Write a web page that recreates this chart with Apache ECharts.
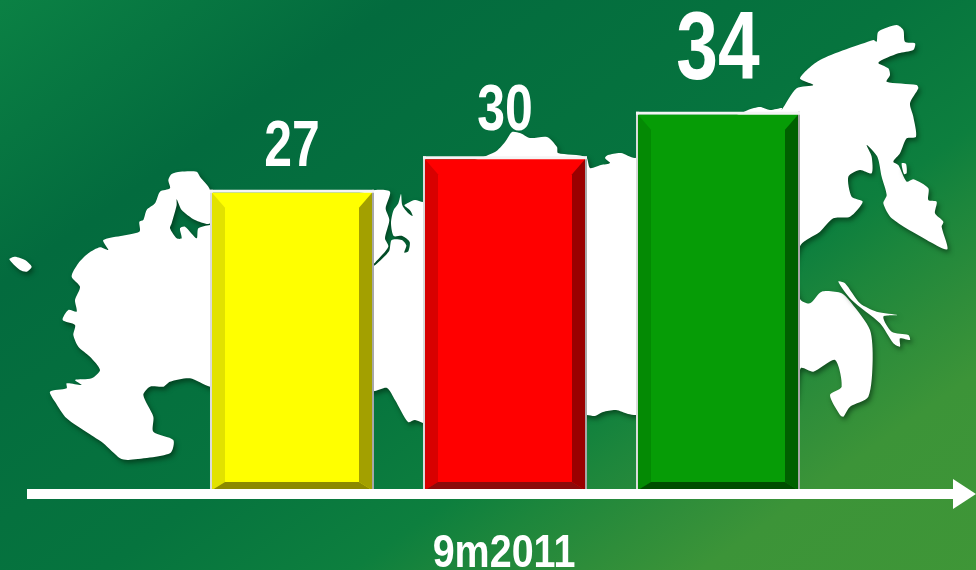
<!DOCTYPE html>
<html><head><meta charset="utf-8">
<style>html,body{margin:0;padding:0;background:#0a7a3d}#c{width:976px;height:570px}</style>
<script src="https://cdn.jsdelivr.net/npm/echarts@6/dist/echarts.min.js"></script>
</head><body><div id="c"></div>
<script>
// ---- data ----
const periodLabels = ['', '9m2011', ''];
const barValues = [27, 30, 34];
const labelFontSizes = [64, 64, 96];
const labelGaps = [9, 12, 11];
const frontColors = ['#ffff00', '#ff0000', '#069c06'];
const leftColors  = ['#e2e200', '#d80000', '#048a04'];
const rightColors = ['#a3a000', '#9a0000', '#006000'];
const lowerColors = ['#8c8a00', '#8c0a0a', '#004d00'];

const fromCrop = (pts, ox, oy) => pts.map(p => [ox + p[0] / 3, oy + p[1] / 3]);
const westCoast = fromCrop([[630,680],[570,655],[510,665],[490,680],[450,680],[430,705],[460,770],[460,815],[520,840],[510,880],[385,900],[360,895],[310,850],[265,820],[200,775],[165,725],[150,695],[200,685],[200,670],[245,675],[225,660],[275,655],[300,630],[270,590],[235,560],[220,525],[225,495],[188,480],[205,450],[230,455],[225,420],[240,380],[215,350],[235,310],[265,280],[300,262],[325,270],[310,240],[418,215],[418,185],[430,180],[440,150],[465,130],[480,95],[510,85],[505,60],[515,42],[540,35],[590,35],[600,50],[630,90]], 0, 160);
const whiteSeaShore = fromCrop([[630,190],[585,180],[545,150],[530,118],[530,135],[515,190],[510,205],[530,235],[545,235],[540,205],[555,200],[590,235],[595,205],[630,195]], 0, 160);
const obGulf = fromCrop([[30,30],[75,35],[62,85],[73,120],[60,175],[70,200],[30,248],[20,258],[30,256],[72,214],[80,180],[110,180],[124,196],[118,218],[130,214],[134,186],[112,168],[86,168],[78,130],[85,92],[100,70],[108,42],[112,76],[130,100],[143,108],[136,92],[118,76],[130,68],[150,60],[178,65]], 365, 180);
const northMiddle = [[440,175],[495,152],[505,142],[512,132],[520,133],[530,138],[547,137],[557,147],[558,153],[586,157],[590,168],[601,165],[610,163],[605,158],[608,155],[621,153],[635,158],[660,150],[748,110],[760,107],[770,110],[782,108]];
const farEast = fromCrop([[65,300],[110,235],[160,225],[120,205],[180,150],[340,90],[350,95],[355,65],[410,45],[430,60],[435,95],[465,100],[460,120],[415,130],[355,158],[385,175],[390,195],[380,215],[470,225],[475,235],[450,280],[460,320],[468,380],[440,385],[420,430],[400,455],[415,465],[440,515],[460,508],[505,535],[505,570],[530,575],[525,610],[550,635],[545,650],[562,718],[500,690],[395,625],[370,580],[380,555],[365,500],[352,440],[320,405],[335,440],[335,490],[300,480],[265,500],[275,560],[308,575],[270,620],[220,625],[180,665],[122,705],[100,800],[122,870],[150,880],[185,845],[245,850],[275,880],[330,960],[338,1050],[325,1160],[270,1190],[250,1220],[240,1215],[210,1155],[245,1130],[225,1050],[160,1085],[122,1075],[90,1200]], 760, 10);
const southMiddle = [[636,415],[628,414],[616,410],[603,412],[595,416],[586,415],[500,440],[423,423],[415,420],[408,422],[395,400],[387,388],[375,391],[300,400]];
const mainland = [].concat(westCoast, whiteSeaShore, obGulf, northMiddle, farEast, southMiddle);
const sakhalin = fromCrop([[235,815],[255,820],[300,880],[350,905],[412,915],[370,920],[395,965],[445,975],[450,990],[420,985],[420,1010],[400,1000],[360,940],[275,870]], 760, 10);
const smallIsle = fromCrop([[425,460],[438,462],[440,490],[432,492]], 760, 10);
const westIsle = fromCrop([[28,298],[45,290],[75,300],[95,320],[80,335],[60,330]], 0, 160);
const mapShapes = [mainland, sakhalin, smallIsle, westIsle];

const boldFont = '"Liberation Sans",Arial,sans-serif';

function renderBar(params, api) {
  const i = params.dataIndex;
  const v = api.value(1);
  const top = api.coord([api.value(0), v]);
  const base = api.coord([api.value(0), 0]);
  const w = api.size([1, 0])[0] * 0.77;
  const x0 = top[0] - w / 2, x1 = top[0] + w / 2, y0 = top[1], y1 = base[1];
  const bl = 13, bt = 15, bb = 8, fr = 2;
  const poly = (points, fill) => ({ type: 'polygon', shape: { points }, style: { fill } });
  const ix0 = x0 + fr, ix1 = x1 - fr, iy0 = y0 + fr + 1;
  return { type: 'group', children: [
    { type: 'rect', shape: { x: x0, y: y0, width: fr + 1, height: y1 - y0 }, style: { fill: '#dcdcdc' } },
    { type: 'rect', shape: { x: x1 - fr, y: y0, width: fr, height: y1 - y0 }, style: { fill: '#a8a8a8' } },
    { type: 'rect', shape: { x: x0, y: y0, width: w, height: fr + 1 }, style: { fill: '#f4f4f4' } },
    { type: 'rect', shape: { x: ix0, y: iy0, width: ix1 - ix0, height: y1 - iy0 }, style: { fill: frontColors[i] } },
    poly([[ix0, iy0], [ix0 + bl, iy0 + bt], [ix0 + bl, y1 - bb], [ix0, y1]], leftColors[i]),
    poly([[ix1, iy0], [ix1 - bl, iy0 + bt], [ix1 - bl, y1 - bb], [ix1, y1]], rightColors[i]),
    poly([[ix0, y1], [ix0 + bl, y1 - bb], [ix1 - bl, y1 - bb], [ix1, y1]], lowerColors[i]),
    { type: 'text', x: top[0], y: y0 - labelGaps[i], scaleX: 0.78,
      style: { text: String(v), x: 0, y: 0, align: 'center', verticalAlign: 'bottom',
      font: 'bold ' + labelFontSizes[i] + 'px ' + boldFont, fill: '#ffffff' } }
  ] };
}

const chart = echarts.init(document.getElementById('c'), null, { renderer: 'canvas' });
chart.setOption({
  animation: false,
  backgroundColor: { type: 'linear', global: true, x: 0, y: 0, x2: 608, y2: 851, colorStops: [
    { offset: 0, color: '#0b8144' }, { offset: 0.222, color: '#036b3e' }, { offset: 0.5, color: '#06743e' },
    { offset: 0.639, color: '#0d7f3e' }, { offset: 0.694, color: '#1c863c' }, { offset: 0.767, color: '#2e8d3a' },
    { offset: 0.833, color: '#3c9438' }, { offset: 1, color: '#3f9637' } ] },
  graphic: mapShapes.map(points => ({
    type: 'polygon', silent: true, z: 0, shape: { points, smooth: 0.25 },
    style: { fill: '#ffffff', shadowColor: 'rgba(0,30,10,0.55)', shadowBlur: 5, shadowOffsetX: 2, shadowOffsetY: 3 } }))
    .concat([{ type: 'text', silent: true, z: 20, x: 504, y: 578, scaleX: 0.84,
      style: { text: periodLabels[1], x: 0, y: 0, align: 'center', verticalAlign: 'bottom',
        font: 'bold 47px ' + boldFont, fill: '#ffffff' } }]),
  grid: [
    { left: 185.5, width: 639, top: 45, height: 445, outerBoundsMode: 'none' },
    { left: 27, right: 11.5, top: 45, bottom: 76, outerBoundsMode: 'none' }
  ],
  xAxis: [
    { type: 'category', gridIndex: 0, data: periodLabels, axisLine: { show: false }, axisTick: { show: false }, axisLabel: { show: false } },
    { type: 'category', gridIndex: 1, data: [''], z: 10, axisTick: { show: false }, axisLabel: { show: false },
      axisLine: { show: true, symbol: ['none', 'triangle'], symbolSize: [30, 23], lineStyle: { color: '#ffffff', width: 10, cap: 'butt' } } }
  ],
  yAxis: [
    { type: 'value', gridIndex: 0, min: 0, max: 40, interval: 10, show: false },
    { type: 'value', gridIndex: 1, min: 0, max: 40, interval: 10, show: false }
  ],
  series: [{
    type: 'custom', xAxisIndex: 0, yAxisIndex: 0, clip: false, renderItem: renderBar,
    encode: { x: 0, y: 1 },
    data: barValues.map((v, i) => [i, v])
  }]
});
</script></body></html>
